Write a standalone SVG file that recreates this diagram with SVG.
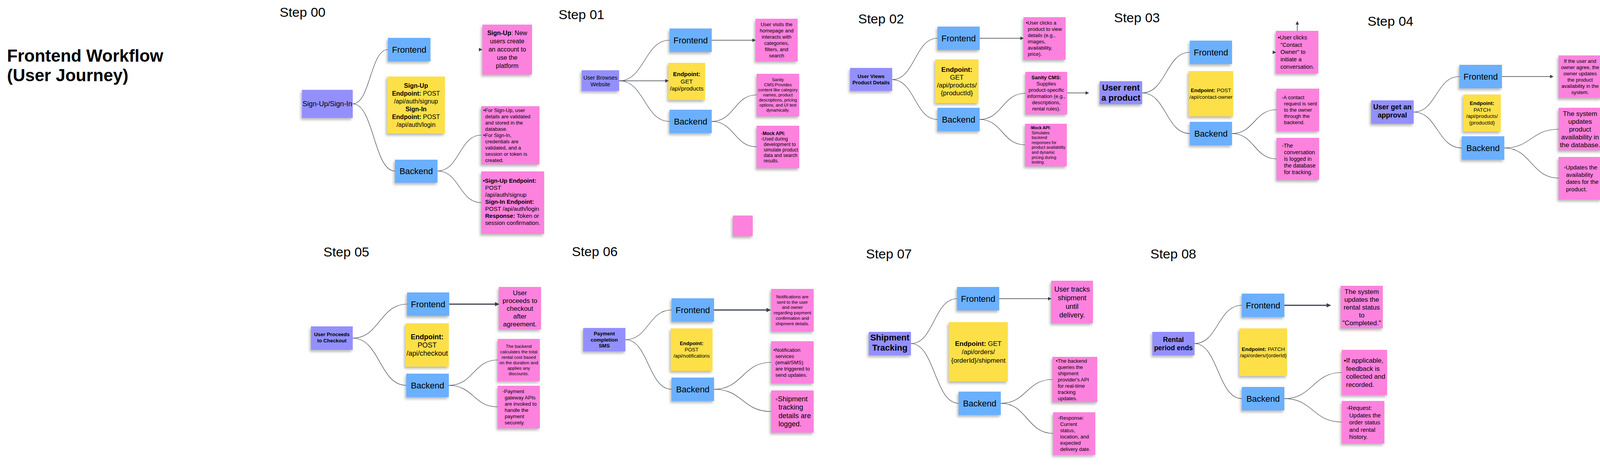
<svg xmlns="http://www.w3.org/2000/svg" width="4124" height="1191" viewBox="0 0 4124 1191">
<defs>
<filter id="sh" x="-15%" y="-15%" width="130%" height="135%">
<feDropShadow dx="-3" dy="5" stdDeviation="3" flood-color="#000" flood-opacity="0.28"/>
</filter>
<marker id="ah" viewBox="0 0 10 10" refX="9" refY="5" markerWidth="9" markerHeight="9" markerUnits="userSpaceOnUse" orient="auto">
<path d="M0,0 L10,5 L0,10 z" fill="#3a414b"/>
</marker>
<marker id="ahb" viewBox="0 0 10 10" refX="9" refY="5" markerWidth="11" markerHeight="11" markerUnits="userSpaceOnUse" orient="auto">
<path d="M0,0 L10,5 L0,10 z" fill="#3a414b"/>
</marker>
</defs>
<style>
text{font-family:"Liberation Sans",Arial,"DejaVu Sans",sans-serif;fill:#000}
.m{text-anchor:middle}
.b{font-weight:bold}
.pu{fill:#9390fd;filter:url(#sh)}
.bl{fill:#6bb0ff;filter:url(#sh)}
.ye{fill:#fde047;filter:url(#sh)}
.pk{fill:#fd82de;filter:url(#sh)}
.fb{font-size:22px}
.st{font-size:34px}
.c{fill:none;stroke:#3a414b;stroke-width:1.2}
.a{fill:none;stroke:#3a414b;stroke-width:1.5}
.ab{fill:none;stroke:#3a414b;stroke-width:3}
</style>
<rect width="4124" height="1191" fill="#fff"/>

<g id="title">
<text x="18" y="158" class="b" font-size="44">Frontend Workflow</text>
<text x="18" y="208" class="b" font-size="44">(User Journey)</text>
</g>

<g id="step-labels">
<text x="716" y="43" class="st">Step 00</text>
<text x="1430" y="49" class="st">Step 01</text>
<text x="2197" y="60" class="st">Step 02</text>
<text x="2852" y="57" class="st">Step 03</text>
<text x="3501" y="66" class="st">Step 04</text>
<text x="828" y="657" class="st">Step 05</text>
<text x="1464" y="656" class="st">Step 06</text>
<text x="2217" y="662" class="st">Step 07</text>
<text x="2945" y="662" class="st">Step 08</text>
</g>

<g id="connectors">
<!-- Step 00 -->
<path class="c" d="M903,266 C948,266 948,127 993,127"/>
<path class="c" d="M903,266 C957,266 957,438 1011,438"/>
<path class="c" d="M1120,438 C1176,438 1176,346 1232,346"/>
<path class="c" d="M1120,438 C1176,438 1176,519 1232,519"/>
<path class="a" d="M1226,127 L1234,127" marker-end="url(#ah)"/>
<!-- Step 01 -->
<path class="c" d="M1585,207 C1650,207 1650,103 1714,103"/>
<path class="c" d="M1585,207 C1650,207 1650,311 1714,311"/>
<path class="a" d="M1585,207 L1711,207" marker-end="url(#ah)"/>
<path class="a" d="M1822,103 L1934,103" marker-end="url(#ah)"/>
<path class="c" d="M1822,311 C1880,311 1880,243 1937,243"/>
<path class="c" d="M1822,311 C1880,311 1880,376 1937,376"/>
<!-- Step 02 -->
<path class="c" d="M2284,204 C2342,204 2342,98 2400,98"/>
<path class="c" d="M2284,204 C2342,204 2342,306 2400,306"/>
<path class="a" d="M2508,98 L2620,98" marker-end="url(#ah)"/>
<path class="c" d="M2508,306 C2566,306 2566,239 2625,239"/>
<path class="c" d="M2508,306 C2566,306 2566,371 2624,371"/>
<path class="a" d="M2732,238 L2787,238" marker-end="url(#ah)"/>
<!-- Step 03 -->
<path class="c" d="M2924,238 C2985,238 2985,134 3046,134"/>
<path class="c" d="M2924,238 C2985,238 2985,342 3046,342"/>
<path class="a" d="M3258,134 L3266,134" marker-end="url(#ah)"/>
<path class="a" d="M3321,79 L3321,55" marker-end="url(#ah)"/>
<path class="c" d="M3154,342 C3211,342 3211,281 3268,281"/>
<path class="c" d="M3154,342 C3211,342 3211,407 3268,407"/>
<!-- Step 04 -->
<path class="c" d="M3619,287 C3677,287 3677,196 3736,196"/>
<path class="c" d="M3619,287 C3680,287 3680,379 3742,379"/>
<path class="a" d="M3845,196 L3976,196" marker-end="url(#ah)"/>
<path class="c" d="M3851,379 C3920,379 3920,331 3990,331"/>
<path class="c" d="M3851,379 C3920,379 3920,456 3990,456"/>
<!-- Step 05 -->
<path class="c" d="M903,866 C972,866 972,779 1042,779"/>
<path class="c" d="M903,866 C972,866 972,987 1040,987"/>
<path class="ab" d="M1150,779 L1277,779" marker-end="url(#ahb)"/>
<path class="c" d="M1149,987 C1212,987 1212,922 1274,922"/>
<path class="c" d="M1149,987 C1212,987 1212,1042 1274,1042"/>
<!-- Step 06 -->
<path class="c" d="M1601,870 C1660,870 1660,794 1719,794"/>
<path class="c" d="M1601,870 C1660,870 1660,997 1719,997"/>
<path class="ab" d="M1828,794 L1972,794" marker-end="url(#ahb)"/>
<path class="c" d="M1828,997 C1901,997 1901,928 1974,928"/>
<path class="c" d="M1828,997 C1901,997 1901,1054 1974,1054"/>
<!-- Step 07 -->
<path class="c" d="M2332,880 C2391,880 2391,765 2450,765"/>
<path class="c" d="M2332,880 C2393,880 2393,1033 2454,1033"/>
<path class="a" d="M2558,765 L2691,765" marker-end="url(#ah)"/>
<path class="c" d="M2562,1033 C2628,1033 2628,972 2694,972"/>
<path class="c" d="M2562,1033 C2629,1033 2629,1110 2696,1110"/>
<!-- Step 08 -->
<path class="c" d="M3058,880 C3118,880 3118,782 3179,782"/>
<path class="c" d="M3058,880 C3118,880 3118,1021 3179,1021"/>
<path class="ab" d="M3288,782 L3406,782" marker-end="url(#ahb)"/>
<path class="c" d="M3288,1021 C3361,1021 3361,954 3435,954"/>
<path class="c" d="M3288,1021 C3361,1021 3361,1081 3435,1081"/>
</g>

<!-- ================= STEP 00 ================= -->
<g id="s00-parent"><rect class="pu" x="773" y="230" width="130" height="72"/>
<text class="m" x="838" y="272" font-size="18">Sign-Up/Sign-In</text></g>
<g id="s00-frontend"><rect class="bl" x="993" y="97" width="109" height="60"/>
<text class="m fb" x="1047.5" y="135">Frontend</text></g>
<g id="s00-endpoint"><rect class="ye" x="991" y="196" width="148" height="146"/>
<text class="m" font-size="16"><tspan x="1065" y="225" class="b">Sign-Up</tspan><tspan x="1065" y="245"><tspan class="b">Endpoint:</tspan> POST</tspan><tspan x="1065" y="265">/api/auth/signup</tspan><tspan x="1065" y="285" class="b">Sign-In</tspan><tspan x="1065" y="305"><tspan class="b">Endpoint:</tspan> POST</tspan><tspan x="1065" y="325">/api/auth/login</tspan></text></g>
<g id="s00-backend"><rect class="bl" x="1011" y="409" width="109" height="59"/>
<text class="m fb" x="1065.5" y="446">Backend</text></g>
<g id="s00-note-a"><rect class="pk" x="1235" y="63" width="127" height="128"/>
<text class="m" font-size="16"><tspan x="1298.5" y="90"><tspan class="b">Sign-Up</tspan>: New</tspan><tspan x="1298.5" y="111">users create</tspan><tspan x="1298.5" y="132">an account to</tspan><tspan x="1298.5" y="153">use the</tspan><tspan x="1298.5" y="174">platform</tspan></text></g>
<g id="s00-note-b"><rect class="pk" x="1232" y="272" width="149" height="149"/>
<text font-size="13"><tspan x="1237" y="287">•For Sign-Up, user</tspan><tspan x="1242" y="303">details are validated</tspan><tspan x="1242" y="319">and stored in the</tspan><tspan x="1242" y="335">database.</tspan><tspan x="1237" y="351">•For Sign-In,</tspan><tspan x="1242" y="367">credentials are</tspan><tspan x="1242" y="383">validated, and a</tspan><tspan x="1242" y="399">session or token is</tspan><tspan x="1242" y="415">created.</tspan></text></g>
<g id="s00-note-c"><rect class="pk" x="1232" y="439" width="161" height="160"/>
<text font-size="15"><tspan x="1236" y="468">•<tspan class="b">Sign-Up Endpoint:</tspan></tspan><tspan x="1242" y="486">POST</tspan><tspan x="1242" y="504">/api/auth/signup</tspan><tspan x="1242" y="522" class="b">Sign-In Endpoint:</tspan><tspan x="1242" y="540">POST /api/auth/login</tspan><tspan x="1242" y="558"><tspan class="b">Response:</tspan> Token or</tspan><tspan x="1242" y="576">session confirmation.</tspan></text></g>

<!-- ================= STEP 01 ================= -->
<g id="s01-parent"><rect class="pu" x="1489" y="180" width="96" height="53"/>
<text class="m" font-size="14"><tspan x="1537" y="203.5">User Browses</tspan><tspan x="1537" y="220.5">Website</tspan></text></g>
<g id="s01-frontend"><rect class="bl" x="1714" y="73" width="108" height="60"/>
<text class="m fb" x="1768" y="111">Frontend</text></g>
<g id="s01-endpoint"><rect class="ye" x="1711" y="161" width="94" height="95"/>
<text class="m" font-size="15"><tspan x="1758" y="195" class="b">Endpoint:</tspan><tspan x="1758" y="213.5">GET</tspan><tspan x="1758" y="232">/api/products</tspan></text></g>
<g id="s01-backend"><rect class="bl" x="1714" y="281" width="108" height="60"/>
<text class="m fb" x="1768" y="319">Backend</text></g>
<g id="s01-note-a"><rect class="pk" x="1934" y="48" width="108" height="109"/>
<text class="m" font-size="13"><tspan x="1988" y="67">User visits the</tspan><tspan x="1988" y="83">homepage and</tspan><tspan x="1988" y="99">interacts with</tspan><tspan x="1988" y="115">categories,</tspan><tspan x="1988" y="131">filters, and</tspan><tspan x="1988" y="147">search</tspan></text></g>
<g id="s01-note-b"><rect class="pk" x="1937" y="189" width="109" height="109"/>
<text class="m" font-size="11"><tspan x="1991.5" y="208">Sanity</tspan><tspan x="1991.5" y="221">CMS:Provides</tspan><tspan x="1991.5" y="234">content like category</tspan><tspan x="1991.5" y="247">names, product</tspan><tspan x="1991.5" y="260">descriptions, pricing</tspan><tspan x="1991.5" y="273">options, and UI text</tspan><tspan x="1991.5" y="286">dynamically.</tspan></text></g>
<g id="s01-note-c"><rect class="pk" x="1937" y="322" width="109" height="109"/>
<text font-size="12"><tspan x="1948" y="346">◦<tspan class="b">Mock API:</tspan></tspan><tspan x="1948" y="360">◦Used during</tspan><tspan x="1955" y="374">development to</tspan><tspan x="1955" y="388">simulate product</tspan><tspan x="1955" y="402">data and search</tspan><tspan x="1955" y="416">results.</tspan></text></g>
<g id="s01-blank-note"><rect class="pk" x="1876" y="552" width="51" height="53"/></g>

<!-- ================= STEP 02 ================= -->
<g id="s02-parent"><rect class="pu" x="2176" y="174" width="108" height="59"/>
<text class="m b" font-size="13"><tspan x="2230" y="200">User Views</tspan><tspan x="2230" y="216">Product Details</tspan></text></g>
<g id="s02-frontend"><rect class="bl" x="2400" y="68" width="108" height="60"/>
<text class="m fb" x="2454" y="106">Frontend</text></g>
<g id="s02-endpoint"><rect class="ye" x="2394" y="152" width="111" height="112"/>
<text class="m" font-size="17"><tspan x="2449.5" y="184" class="b">Endpoint:</tspan><tspan x="2449.5" y="204">GET</tspan><tspan x="2449.5" y="224">/api/products/</tspan><tspan x="2449.5" y="244">{productId}</tspan></text></g>
<g id="s02-backend"><rect class="bl" x="2400" y="276" width="108" height="60"/>
<text class="m fb" x="2454" y="314">Backend</text></g>
<g id="s02-note-a"><rect class="pk" x="2620" y="44" width="108" height="109"/>
<text font-size="13"><tspan x="2626" y="63">•User clicks a</tspan><tspan x="2631" y="79">product to view</tspan><tspan x="2631" y="95">details (e.g.,</tspan><tspan x="2631" y="111">images,</tspan><tspan x="2631" y="127">availability,</tspan><tspan x="2631" y="143">price).</tspan></text></g>
<g id="s02-note-b"><rect class="pk" x="2625" y="184" width="107" height="109"/>
<text class="m" font-size="13"><tspan x="2678.5" y="203" class="b">Sanity CMS:</tspan><tspan x="2678.5" y="219">Supplies</tspan><tspan x="2678.5" y="235">product-specific</tspan><tspan x="2678.5" y="251">information (e.g.,</tspan><tspan x="2678.5" y="267">descriptions,</tspan><tspan x="2678.5" y="283">rental rules).</tspan></text></g>
<g id="s02-note-c"><rect class="pk" x="2624" y="317" width="107" height="109"/>
<text font-size="10.5"><tspan x="2636" y="331">◦<tspan class="b">Mock API:</tspan></tspan><tspan x="2641" y="343.6">Simulates</tspan><tspan x="2641" y="356.2">backend</tspan><tspan x="2641" y="368.8">responses for</tspan><tspan x="2641" y="381.4">product availability</tspan><tspan x="2641" y="394">and dynamic</tspan><tspan x="2641" y="406.6">pricing during</tspan><tspan x="2641" y="419.2">testing.</tspan></text></g>

<!-- ================= STEP 03 ================= -->
<g id="s03-parent"><rect class="pu" x="2815" y="208" width="109" height="59"/>
<text class="m b" font-size="22"><tspan x="2869.5" y="232">User rent</tspan><tspan x="2869.5" y="258">a product</tspan></text></g>
<g id="s03-frontend"><rect class="bl" x="3046" y="104" width="108" height="60"/>
<text class="m fb" x="3100" y="142">Frontend</text></g>
<g id="s03-endpoint"><rect class="ye" x="3043" y="182" width="114" height="116"/>
<text class="m" font-size="13.5"><tspan x="3100" y="236"><tspan class="b">Endpoint:</tspan> POST</tspan><tspan x="3100" y="253">/api/contact-owner</tspan></text></g>
<g id="s03-backend"><rect class="bl" x="3046" y="312" width="108" height="60"/>
<text class="m fb" x="3100" y="350">Backend</text></g>
<g id="s03-note-a"><rect class="pk" x="3266" y="79" width="109" height="109"/>
<text font-size="14.5"><tspan x="3271" y="101">▪User clicks</tspan><tspan x="3278" y="119.7">"Contact</tspan><tspan x="3278" y="138.4">Owner" to</tspan><tspan x="3278" y="157.1">initiate a</tspan><tspan x="3278" y="175.8">conversation.</tspan></text></g>
<g id="s03-note-b"><rect class="pk" x="3268" y="227" width="109" height="109"/>
<text font-size="13"><tspan x="3281" y="254">◦A contact</tspan><tspan x="3287" y="270">request is sent</tspan><tspan x="3287" y="286">to the owner</tspan><tspan x="3287" y="302">through the</tspan><tspan x="3287" y="318">backend.</tspan></text></g>
<g id="s03-note-c"><rect class="pk" x="3268" y="353" width="109" height="108"/>
<text font-size="14"><tspan x="3281" y="377.5">◦The</tspan><tspan x="3287" y="394.7">conversation</tspan><tspan x="3287" y="411.9">is logged in</tspan><tspan x="3287" y="429.1">the database</tspan><tspan x="3287" y="446.3">for tracking.</tspan></text></g>

<!-- ================= STEP 04 ================= -->
<g id="s04-parent"><rect class="pu" x="3510" y="257" width="109" height="60"/>
<text class="m b" font-size="18"><tspan x="3564.5" y="280">User get an</tspan><tspan x="3564.5" y="301">approval</tspan></text></g>
<g id="s04-frontend"><rect class="bl" x="3736" y="166" width="109" height="60"/>
<text class="m fb" x="3790.5" y="204">Frontend</text></g>
<g id="s04-endpoint"><rect class="ye" x="3746" y="242" width="96" height="95"/>
<text class="m" font-size="13.5"><tspan x="3794" y="269" class="b">Endpoint:</tspan><tspan x="3794" y="285.6">PATCH</tspan><tspan x="3794" y="302.2">/api/products/</tspan><tspan x="3794" y="318.8">{productId}</tspan></text></g>
<g id="s04-backend"><rect class="bl" x="3742" y="349" width="109" height="60"/>
<text class="m fb" x="3796.5" y="387">Backend</text></g>
<g id="s04-note-a"><rect class="pk" x="3990" y="142" width="110" height="109"/>
<text class="m" font-size="13"><tspan x="4045" y="161">If the user and</tspan><tspan x="4045" y="177">owner agree, the</tspan><tspan x="4045" y="193">owner updates</tspan><tspan x="4045" y="209">the product</tspan><tspan x="4045" y="225">availability in the</tspan><tspan x="4045" y="241">system.</tspan></text></g>
<g id="s04-note-b"><rect class="pk" x="3990" y="276" width="110" height="109"/>
<text class="m" font-size="17"><tspan x="4045" y="296.5">The system</tspan><tspan x="4045" y="316.5">updates</tspan><tspan x="4045" y="336.5">product</tspan><tspan x="4045" y="356.5">availability in</tspan><tspan x="4045" y="376.5">the database.</tspan></text></g>
<g id="s04-note-c"><rect class="pk" x="3990" y="402" width="110" height="109"/>
<text font-size="15"><tspan x="4003" y="434">◦Updates the</tspan><tspan x="4009" y="452.6">availability</tspan><tspan x="4009" y="471.2">dates for the</tspan><tspan x="4009" y="489.8">product.</tspan></text></g>

<!-- ================= STEP 05 ================= -->
<g id="s05-parent"><rect class="pu" x="796" y="836" width="107" height="60"/>
<text class="m b" font-size="13"><tspan x="849.5" y="861">User Proceeds</tspan><tspan x="849.5" y="877">to Checkout</tspan></text></g>
<g id="s05-frontend"><rect class="bl" x="1042" y="749" width="108" height="60"/>
<text class="m fb" x="1096" y="787">Frontend</text></g>
<g id="s05-endpoint"><rect class="ye" x="1038" y="828" width="111" height="111"/>
<text class="m" font-size="18"><tspan x="1093.5" y="869" class="b">Endpoint:</tspan><tspan x="1093.5" y="890">POST</tspan><tspan x="1093.5" y="911">/api/checkout</tspan></text></g>
<g id="s05-backend"><rect class="bl" x="1040" y="957" width="109" height="60"/>
<text class="m fb" x="1094.5" y="995">Backend</text></g>
<g id="s05-note-a"><rect class="pk" x="1277" y="735" width="108" height="109"/>
<text class="m" font-size="17"><tspan x="1331" y="755.5">User</tspan><tspan x="1331" y="775.5">proceeds to</tspan><tspan x="1331" y="795.5">checkout</tspan><tspan x="1331" y="815.5">after</tspan><tspan x="1331" y="835.5">agreement.</tspan></text></g>
<g id="s05-note-b"><rect class="pk" x="1274" y="868" width="108" height="108"/>
<text class="m" font-size="11.5"><tspan x="1328" y="891">The backend</tspan><tspan x="1328" y="905">calculates the total</tspan><tspan x="1328" y="919">rental cost based</tspan><tspan x="1328" y="933">on the duration and</tspan><tspan x="1328" y="947">applies any</tspan><tspan x="1328" y="961">discounts.</tspan></text></g>
<g id="s05-note-c"><rect class="pk" x="1274" y="988" width="108" height="109"/>
<text font-size="13"><tspan x="1286" y="1007">◦Payment</tspan><tspan x="1292" y="1023">gateway APIs</tspan><tspan x="1292" y="1039">are invoked to</tspan><tspan x="1292" y="1055">handle the</tspan><tspan x="1292" y="1071">payment</tspan><tspan x="1292" y="1087">securely.</tspan></text></g>

<!-- ================= STEP 06 ================= -->
<g id="s06-parent"><rect class="pu" x="1493" y="840" width="108" height="60"/>
<text class="m b" font-size="13"><tspan x="1547" y="859">Payment</tspan><tspan x="1547" y="874.6">completion</tspan><tspan x="1547" y="890.2">SMS</tspan></text></g>
<g id="s06-frontend"><rect class="bl" x="1719" y="764" width="109" height="60"/>
<text class="m fb" x="1773.5" y="802">Frontend</text></g>
<g id="s06-endpoint"><rect class="ye" x="1717" y="841" width="107" height="109"/>
<text class="m" font-size="13"><tspan x="1770.5" y="884" class="b">Endpoint:</tspan><tspan x="1770.5" y="900">POST</tspan><tspan x="1770.5" y="916">/api/notifications</tspan></text></g>
<g id="s06-backend"><rect class="bl" x="1719" y="967" width="109" height="60"/>
<text class="m fb" x="1773.5" y="1005">Backend</text></g>
<g id="s06-note-a"><rect class="pk" x="1974" y="740" width="109" height="109"/>
<text class="m" font-size="11.5"><tspan x="2028.5" y="764">Notifications are</tspan><tspan x="2028.5" y="777.7">sent to the user</tspan><tspan x="2028.5" y="791.4">and owner</tspan><tspan x="2028.5" y="805.1">regarding payment</tspan><tspan x="2028.5" y="818.8">confirmation and</tspan><tspan x="2028.5" y="832.5">shipment details.</tspan></text></g>
<g id="s06-note-b"><rect class="pk" x="1974" y="874" width="109" height="108"/>
<text font-size="13"><tspan x="1980" y="900.6">•Notification</tspan><tspan x="1985" y="916.6">services</tspan><tspan x="1985" y="932.6">(email/SMS)</tspan><tspan x="1985" y="948.6">are triggered to</tspan><tspan x="1985" y="964.6">send updates.</tspan></text></g>
<g id="s06-note-c"><rect class="pk" x="1974" y="1000" width="109" height="108"/>
<text font-size="18"><tspan x="1985" y="1028">◦Shipment</tspan><tspan x="1993" y="1049.3">tracking</tspan><tspan x="1993" y="1070.6">details are</tspan><tspan x="1993" y="1091.9">logged.</tspan></text></g>

<!-- ================= STEP 07 ================= -->
<g id="s07-parent"><rect class="pu" x="2224" y="850" width="108" height="60"/>
<text class="m b" font-size="22"><tspan x="2278" y="872">Shipment</tspan><tspan x="2278" y="898">Tracking</tspan></text></g>
<g id="s07-frontend"><rect class="bl" x="2450" y="735" width="108" height="60"/>
<text class="m fb" x="2504" y="773">Frontend</text></g>
<g id="s07-endpoint"><rect class="ye" x="2429" y="825" width="151" height="152"/>
<text class="m" font-size="17"><tspan x="2504.5" y="885.5"><tspan class="b">Endpoint:</tspan> GET</tspan><tspan x="2504.5" y="907">/api/orders/</tspan><tspan x="2504.5" y="928.5">{orderId}/shipment</tspan></text></g>
<g id="s07-backend"><rect class="bl" x="2454" y="1003" width="108" height="60"/>
<text class="m fb" x="2508" y="1041">Backend</text></g>
<g id="s07-note-a"><rect class="pk" x="2691" y="719" width="107" height="109"/>
<text class="m" font-size="18"><tspan x="2744.5" y="747">User tracks</tspan><tspan x="2744.5" y="769">shipment</tspan><tspan x="2744.5" y="791">until</tspan><tspan x="2744.5" y="813">delivery.</tspan></text></g>
<g id="s07-note-b"><rect class="pk" x="2694" y="914" width="115" height="116"/>
<text font-size="13"><tspan x="2703" y="928.6">•The backend</tspan><tspan x="2708" y="944.6">queries the</tspan><tspan x="2708" y="960.6">shipment</tspan><tspan x="2708" y="976.6">provider's API</tspan><tspan x="2708" y="992.6">for real-time</tspan><tspan x="2708" y="1008.6">tracking</tspan><tspan x="2708" y="1024.6">updates.</tspan></text></g>
<g id="s07-note-c"><rect class="pk" x="2696" y="1056" width="108" height="109"/>
<text font-size="13"><tspan x="2708" y="1075">◦Response:</tspan><tspan x="2714" y="1091">Current</tspan><tspan x="2714" y="1107">status,</tspan><tspan x="2714" y="1123">location, and</tspan><tspan x="2714" y="1139">expected</tspan><tspan x="2714" y="1155">delivery date.</tspan></text></g>

<!-- ================= STEP 08 ================= -->
<g id="s08-parent"><rect class="pu" x="2950" y="850" width="108" height="60"/>
<text class="m b" font-size="17.5"><tspan x="3004" y="875.6">Rental</tspan><tspan x="3004" y="896.6">period ends</tspan></text></g>
<g id="s08-frontend"><rect class="bl" x="3179" y="752" width="109" height="60"/>
<text class="m fb" x="3233.5" y="790">Frontend</text></g>
<g id="s08-endpoint"><rect class="ye" x="3173" y="841" width="122" height="122"/>
<text class="m" font-size="13.5"><tspan x="3234" y="898.7"><tspan class="b">Endpoint:</tspan> PATCH</tspan><tspan x="3234" y="914.7">/api/orders/{orderId}</tspan></text></g>
<g id="s08-backend"><rect class="bl" x="3179" y="991" width="109" height="60"/>
<text class="m fb" x="3233.5" y="1029">Backend</text></g>
<g id="s08-note-a"><rect class="pk" x="3432" y="732" width="108" height="109"/>
<text class="m" font-size="17"><tspan x="3486" y="752.5">The system</tspan><tspan x="3486" y="772.5">updates the</tspan><tspan x="3486" y="792.5">rental status</tspan><tspan x="3486" y="812.5">to</tspan><tspan x="3486" y="832.5">"Completed."</tspan></text></g>
<g id="s08-note-b"><rect class="pk" x="3435" y="896" width="116" height="116"/>
<text font-size="17"><tspan x="3440" y="929">•If applicable,</tspan><tspan x="3446" y="949.5">feedback is</tspan><tspan x="3446" y="970">collected and</tspan><tspan x="3446" y="990.5">recorded.</tspan></text></g>
<g id="s08-note-c"><rect class="pk" x="3435" y="1027" width="109" height="109"/>
<text font-size="15"><tspan x="3447" y="1050">◦Request:</tspan><tspan x="3454" y="1068.5">Updates the</tspan><tspan x="3454" y="1087">order status</tspan><tspan x="3454" y="1105.5">and rental</tspan><tspan x="3454" y="1124">history.</tspan></text></g>
</svg>
